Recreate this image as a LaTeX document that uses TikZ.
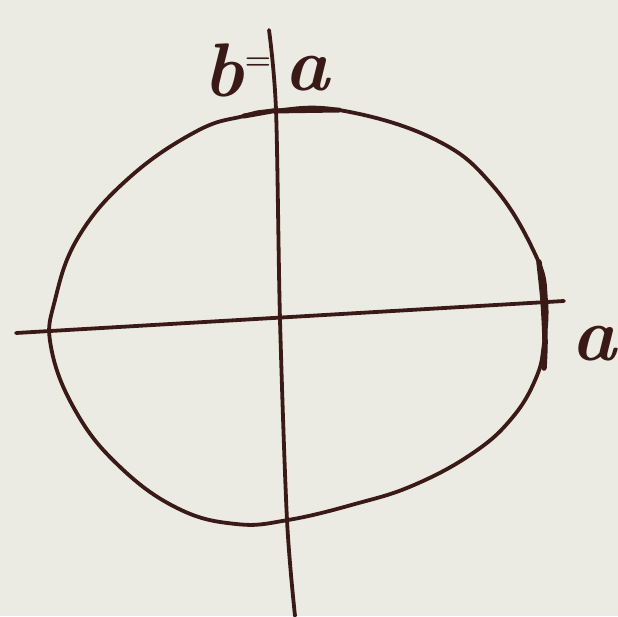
\documentclass[tikz,border=0pt]{standalone}
\definecolor{ink}{HTML}{3A1A16}
\definecolor{paper}{HTML}{ECEBE3}
\begin{document}
\begin{tikzpicture}[x=1pt,y=-1pt,
  stroke/.style={draw=ink,line width=3.8pt,line cap=round,line join=round},
  lbl/.style={text=ink,inner sep=0pt,font=\fontsize{76}{76}\selectfont\bfseries\itshape}]
\fill[paper] (0,0) rectangle (618,616);
\useasboundingbox (0,0) rectangle (618,616);
% closed curve
\draw[stroke] plot[smooth cycle,tension=0.7] coordinates {
  (272,111) (339,110) (434,139) (493,186) (536,256) (546,300) (544,343)
  (536,378) (512,418) (473,453) (414,485) (355,504) (288,520) (236,524)
  (177,508) (118,465) (75,410) (51,347) (55,300) (79,236) (130,177)
  (197,131) (244,116)};
% axes
\draw[stroke] (16,333) -- (564,301);
\draw[stroke] plot[smooth,tension=0.5] coordinates {(269,30) (276,110) (280,320) (287,520) (295,616)};
% thick marks
\draw[stroke,line width=5pt] (244,116) -- (272,111) -- (339,110);
\draw[stroke,line width=5.5pt] plot[smooth] coordinates {(539,262) (543,300) (545,340) (544,368)};
% labels
\node[lbl] (b) at (224,70) {b};
\node[text=ink,inner sep=0pt,font=\fontsize{30}{30}\selectfont\bfseries] (eq) at (258,64) {=};
\node[lbl] (a1) at (307,74) {a};
\node[lbl] (a2) at (594,344) {a};
\end{tikzpicture}
\end{document}
